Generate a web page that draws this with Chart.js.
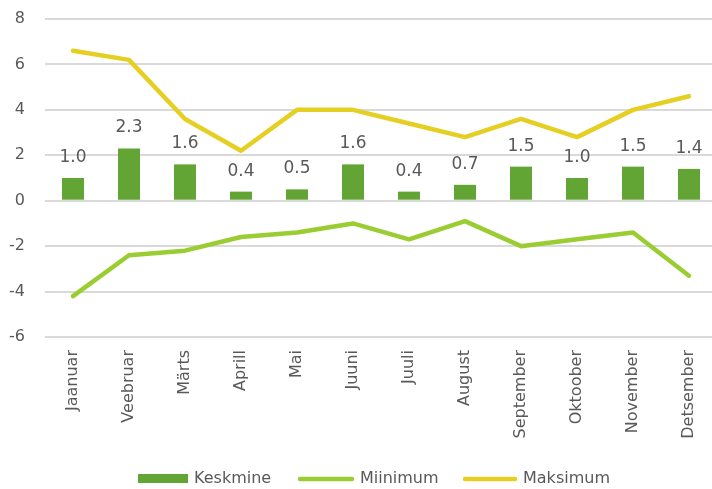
<!DOCTYPE html>
<html>
<head>
<meta charset="utf-8">
<script src="https://cdn.jsdelivr.net/npm/chart.js@4/dist/chart.umd.min.js"></script>
<style>
  html, body { margin: 0; padding: 0; background: #fff; overflow: hidden; }
  #wrap { position: relative; width: 718px; height: 489px; }
</style>
</head>
<body>
<div id="wrap"><canvas id="c" width="718" height="489"></canvas></div>
<script>
const categories = ["Jaanuar","Veebruar","Märts","Aprill","Mai","Juuni","Juuli","August","September","Oktoober","November","Detsember"];
const keskmine = [1.0, 2.3, 1.6, 0.4, 0.5, 1.6, 0.4, 0.7, 1.5, 1.0, 1.5, 1.4];
const miinimum = [-4.2, -2.4, -2.2, -1.6, -1.4, -1.0, -1.7, -0.9, -2.0, -1.7, -1.4, -3.3];
const maksimum = [6.6, 6.2, 3.6, 2.2, 4.0, 4.0, 3.4, 2.8, 3.6, 2.8, 4.0, 4.6];
const yTicks = [-6, -4, -2, 0, 2, 4, 6, 8];

const FONT = "'DejaVu Sans', sans-serif";
const TEXT = "#595959";

const dataLabels = {
  id: 'dataLabels',
  afterDatasetsDraw(chart) {
    const ctx = chart.ctx;
    const meta = chart.getDatasetMeta(0);
    ctx.save();
    ctx.font = "17px " + FONT;
    ctx.fillStyle = TEXT;
    ctx.textAlign = 'center';
    ctx.textBaseline = 'alphabetic';
    meta.data.forEach((el, i) => {
      ctx.fillText(keskmine[i].toFixed(1), el.x, el.y - 16);
    });
    ctx.restore();
  }
};

const customLegend = {
  id: 'customLegend',
  afterDraw(chart) {
    const ctx = chart.ctx;
    const items = [
      {type: 'box', x: 138, w: 50, label: chart.data.datasets[0].label, color: chart.data.datasets[0].backgroundColor},
      {type: 'line', x: 298, w: 56, label: chart.data.datasets[1].label, color: chart.data.datasets[1].borderColor},
      {type: 'line', x: 463, w: 54, label: chart.data.datasets[2].label, color: chart.data.datasets[2].borderColor}
    ];
    const cy = 479;
    ctx.save();
    ctx.font = "16px " + FONT;
    ctx.textBaseline = 'middle';
    ctx.textAlign = 'left';
    items.forEach(it => {
      if (it.type === 'box') {
        ctx.fillStyle = it.color;
        ctx.fillRect(it.x, cy - 5, it.w, 9);
      } else {
        ctx.strokeStyle = it.color;
        ctx.lineWidth = 4.5;
        ctx.lineCap = 'round';
        ctx.beginPath();
        ctx.moveTo(it.x + 2, cy);
        ctx.lineTo(it.x + it.w - 2, cy);
        ctx.stroke();
      }
      ctx.fillStyle = TEXT;
      ctx.fillText(it.label, it.x + it.w + 6, cy);
    });
    ctx.restore();
  }
};

new Chart(document.getElementById('c'), {
  data: {
    labels: categories,
    datasets: [
      {
        type: 'bar', label: 'Keskmine', data: keskmine,
        backgroundColor: '#62A535', borderWidth: 0,
        categoryPercentage: 1.0, barPercentage: 0.393, order: 3
      },
      {
        type: 'line', label: 'Miinimum', data: miinimum,
        borderColor: '#9ACD32', backgroundColor: '#9ACD32', borderWidth: 4.5,
        pointRadius: 0, tension: 0, borderCapStyle: 'round', borderJoinStyle: 'round', order: 2
      },
      {
        type: 'line', label: 'Maksimum', data: maksimum,
        borderColor: '#E5CF22', backgroundColor: '#E5CF22', borderWidth: 4.5,
        pointRadius: 0, tension: 0, borderCapStyle: 'round', borderJoinStyle: 'round', order: 1
      }
    ]
  },
  options: {
    responsive: false,
    animation: false,
    devicePixelRatio: 1,
    layout: { padding: { top: 19, left: 0, right: 1, bottom: 0 } },
    plugins: { legend: { display: false }, tooltip: { enabled: false } },
    scales: {
      x: {
        offset: true,
        grid: { display: false, drawTicks: false },
        border: { display: false },
        ticks: {
          color: TEXT, font: { family: FONT, size: 16 },
          maxRotation: 90, minRotation: 90, padding: 13, autoSkip: false
        },
        afterFit(scale) { scale.height = 152; scale.paddingLeft = 0; scale.paddingRight = 0; }
      },
      y: {
        min: -6, max: 8,
        afterBuildTicks(scale) { scale.ticks = yTicks.map(v => ({ value: v })); },
        grid: { color: '#D9D9D9', lineWidth: 2, drawTicks: false },
        border: { display: false },
        ticks: { color: TEXT, font: { family: FONT, size: 16 }, padding: 20 },
        afterFit(scale) { scale.width = 45; scale.paddingTop = 0; scale.paddingBottom = 0; }
      }
    }
  },
  plugins: [dataLabels, customLegend]
});
</script>
</body>
</html>
